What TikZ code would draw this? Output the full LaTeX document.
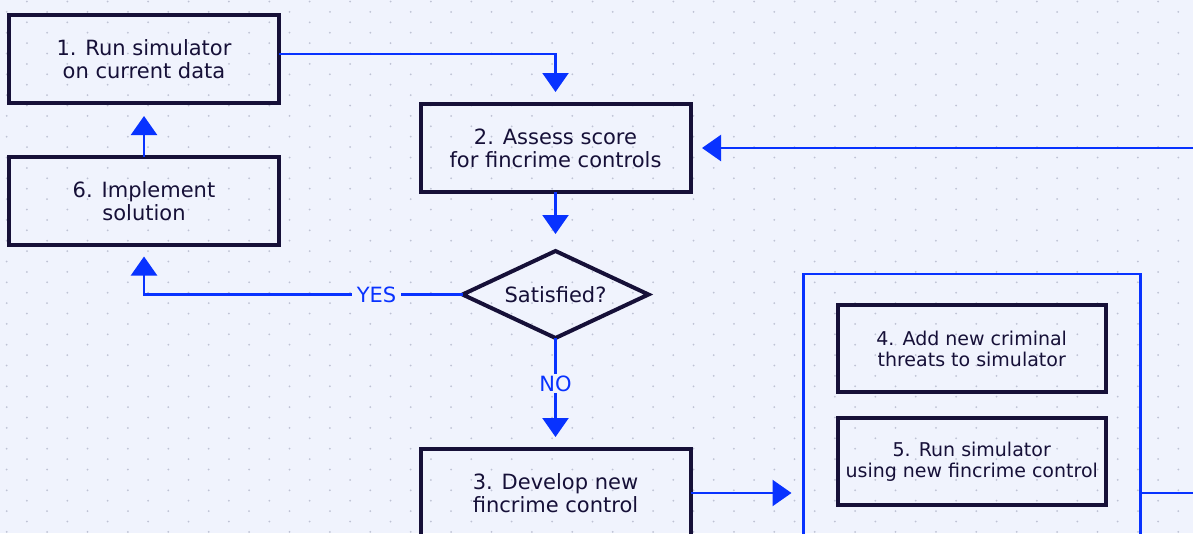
\documentclass[tikz,border=0pt]{standalone}
\usepackage{fontspec}
\setmainfont{DejaVu Sans}
\usetikzlibrary{arrows.meta,shapes.geometric}
\definecolor{bgpaper}{RGB}{240,243,253}
\definecolor{griddot}{RGB}{190,194,212}
\definecolor{ink}{RGB}{22,16,56}
\definecolor{flowblue}{RGB}{8,50,255}

\begin{document}
\begin{tikzpicture}[x=1pt,y=-1pt,
  box/.style={draw=ink, line width=4pt, minimum width=270pt, minimum height=88pt,
    inner sep=0pt, outer sep=0pt, align=center, text=ink,
    font=\fontsize{21}{23}\selectfont},
  smallbox/.style={box, minimum width=268pt, minimum height=87pt,
    font=\fontsize{19}{21.5}\selectfont},
  decision/.style={diamond, aspect=2.14, draw=ink, line width=4pt,
    minimum width=186pt, minimum height=87pt, inner sep=0pt, outer sep=0pt,
    text=ink, font=\fontsize{21}{23}\selectfont},
  group/.style={draw=flowblue, line width=2.2pt, minimum width=337pt,
    minimum height=300pt, inner sep=0pt, outer sep=0pt},
  flow/.style={draw=flowblue, line width=2.3pt,
    -{Triangle[length=19pt,width=26pt]}},
  lbl/.style={fill=bgpaper, text=flowblue, inner xsep=5pt, inner ysep=2pt,
    font=\fontsize{21}{23}\selectfont}
]
% canvas and dotted paper
\useasboundingbox (0,0) rectangle (1193,533);
\clip (0,0) rectangle (1193,533);
\fill[bgpaper] (0,0) rectangle (1193,533);
\foreach \j in {0,...,25}{
  \foreach \i in {0,...,29}{
    \fill[griddot] (6.7+40.4*\i, 11.9+20.8*\j) circle (1pt);
    \fill[griddot] (26.9+40.4*\i, 1.5+20.8*\j) circle (1pt);
  }
}

% process steps
\node[box] (b1) at (144,59) {1. Run simulator\\on current data};
\node[box] (b6) at (144,201) {6. Implement\\solution};
\node[box] (b2) at (555.5,148) {2. Assess score\\for fincrime controls};
\node[decision] (d) at (555.5,294.5) {Satisfied?};
\node[box] (b3) at (555.5,493) {3. Develop new\\fincrime control};
\node[group] (grp) at (972,424.3) {};
\node[smallbox] (b4) at (971.7,348.8) {4. Add new criminal\\threats to simulator};
\node[smallbox] (b5) at (971.7,461.7) {5. Run simulator\\using new fincrime control};

% return path beyond the right edge
\coordinate (loop) at (1225,300);

% connectors
\draw[flow, shorten >=12pt] ([yshift=5pt]b1.east) -| (b2.north);
\draw[flow, shorten >=17pt] (b2.south) -- (d.north);
\draw[flow, shorten >=11.5pt] (d.west) -- node[lbl, pos=0.27] {YES} (b6.south |- d.west) -- (b6.south);
\draw[flow, shorten >=12pt] (d.south) -- node[lbl, pos=0.41] {NO} (b3.north);
\draw[flow, shorten >=13pt] (b6.north) -- (b1.south);
\draw[flow, shorten >=12pt] (b3.east) -- (grp.west |- b3.east);
\draw[flow, shorten >=11.5pt] (grp.east |- b3.east) -- (loop |- b3.east) -- (loop |- b2.east) -- (b2.east);
\end{tikzpicture}
\end{document}
